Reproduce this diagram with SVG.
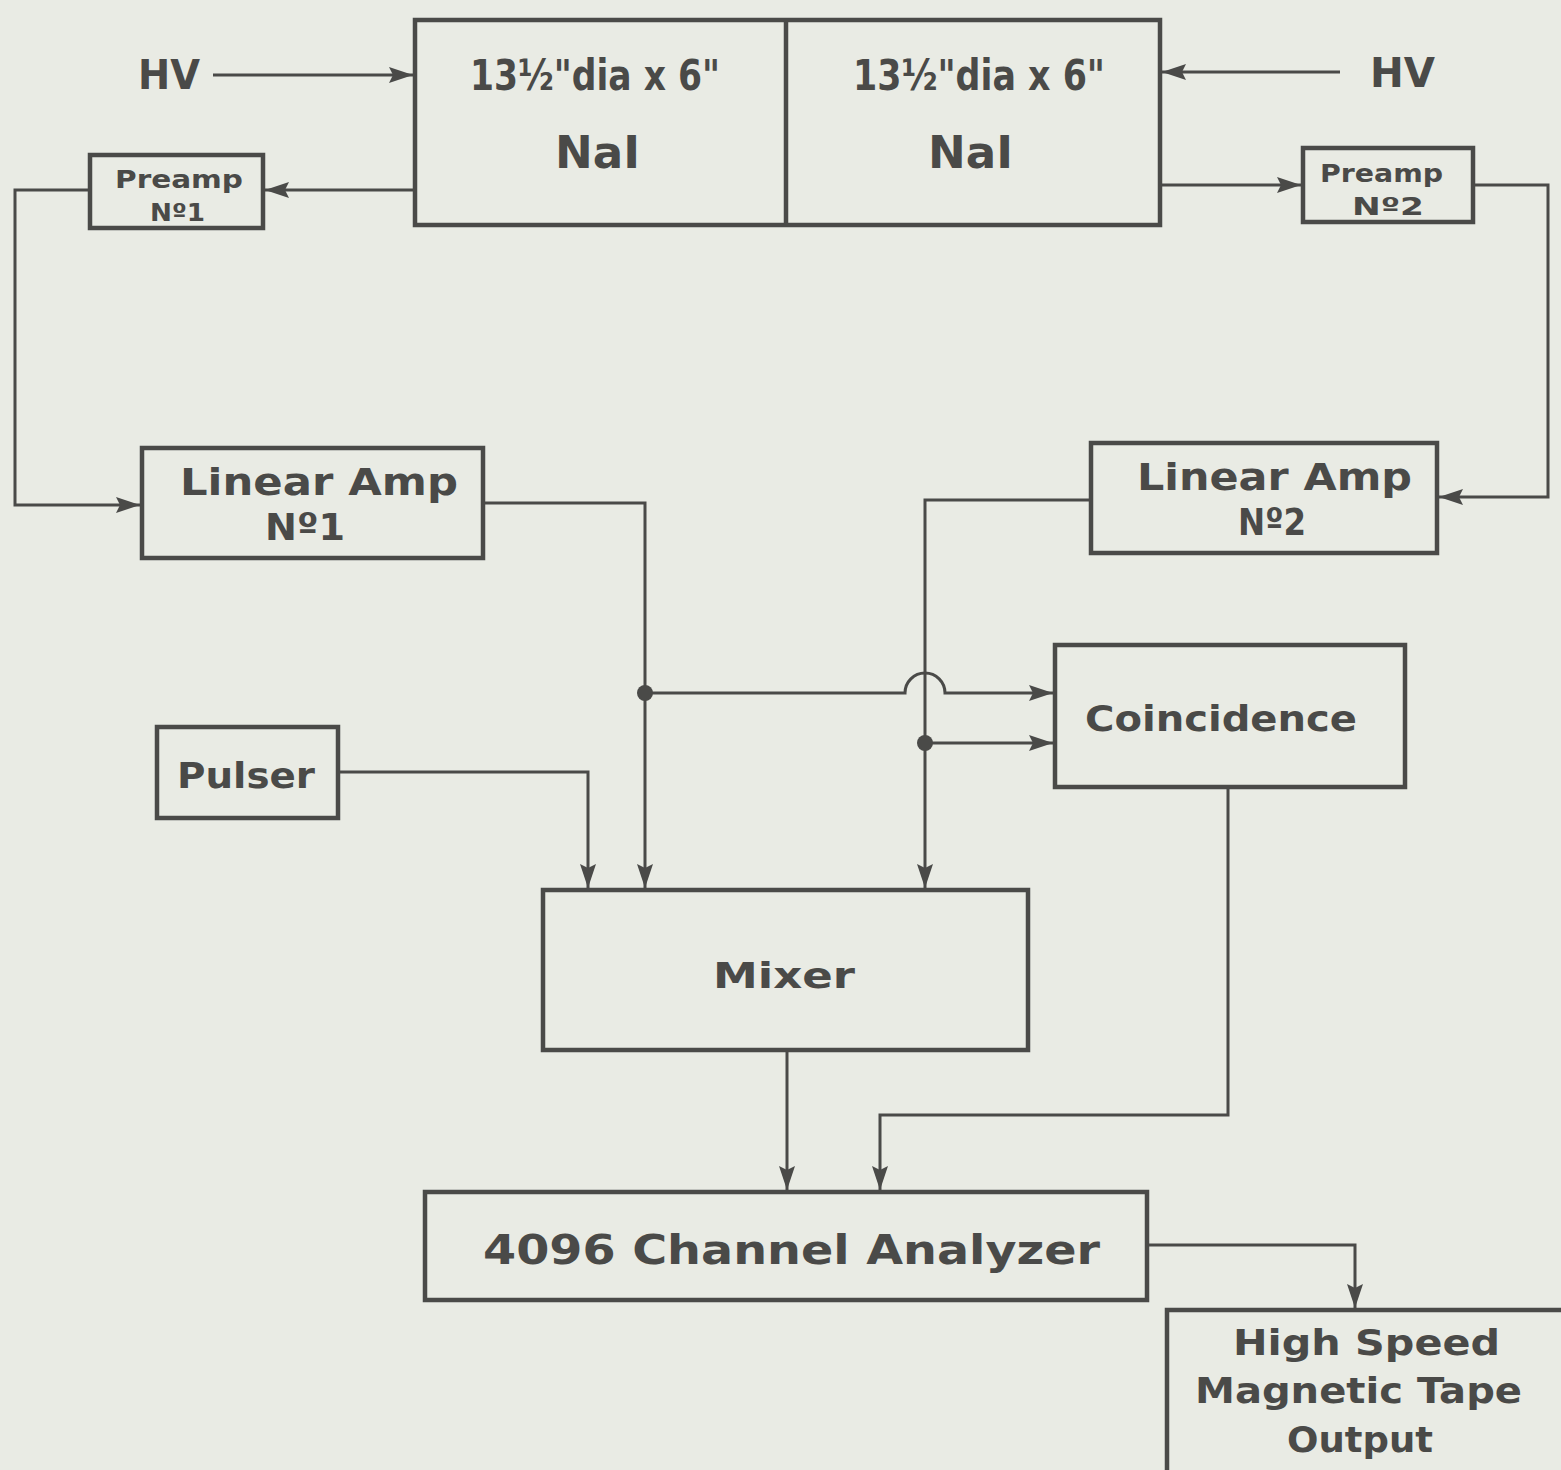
<svg xmlns="http://www.w3.org/2000/svg" width="1561" height="1470" viewBox="0 0 1561 1470">
<defs>
<marker id="ah" markerUnits="userSpaceOnUse" markerWidth="26" markerHeight="18" refX="24" refY="9" orient="auto">
<path d="M0,1 L24,9 L0,17 L4,9 Z" fill="#4a4a48"/>
</marker>
<style>
.box{fill:none;stroke:#4a4a48;stroke-width:4.5}
.ar{fill:none;stroke:#4a4a48;stroke-width:3;marker-end:url(#ah)}
.t{font-family:"DejaVu Sans","Liberation Sans",sans-serif;font-weight:bold;fill:#4a4a48;text-anchor:start}
.dot{fill:#4a4a48}
</style>
</defs>
<rect width="1561" height="1470" fill="#e9ebe4"/>

<g id="nai">
<rect class="box" x="415" y="20" width="745" height="205"/>
<line class="box" x1="786" y1="20" x2="786" y2="225"/>
<text class="t" x="470" y="90" font-size="42" textLength="250" lengthAdjust="spacingAndGlyphs">13½"dia x 6"</text>
<text class="t" x="555" y="168" font-size="44" textLength="85" lengthAdjust="spacingAndGlyphs">NaI</text>
<text class="t" x="853" y="90" font-size="42" textLength="252" lengthAdjust="spacingAndGlyphs">13½"dia x 6"</text>
<text class="t" x="928" y="168" font-size="44" textLength="85" lengthAdjust="spacingAndGlyphs">NaI</text>
</g>

<g id="hv-left">
<text class="t" x="138" y="89" font-size="40" textLength="62" lengthAdjust="spacingAndGlyphs">HV</text>
</g>
<g id="hv-right">
<text class="t" x="1370" y="87" font-size="40" textLength="65" lengthAdjust="spacingAndGlyphs">HV</text>
</g>

<g id="preamp1">
<rect class="box" x="90" y="155" width="173" height="73"/>
<text class="t" x="115" y="188" font-size="25" textLength="128" lengthAdjust="spacingAndGlyphs">Preamp</text>
<text class="t" x="150" y="221" font-size="25" textLength="55" lengthAdjust="spacingAndGlyphs">Nº1</text>
</g>

<g id="preamp2">
<rect class="box" x="1303" y="148" width="170" height="74"/>
<text class="t" x="1320" y="182" font-size="25" textLength="123" lengthAdjust="spacingAndGlyphs">Preamp</text>
<text class="t" x="1352" y="215" font-size="25" textLength="72" lengthAdjust="spacingAndGlyphs">Nº2</text>
</g>

<g id="linamp1">
<rect class="box" x="142" y="448" width="341" height="110"/>
<text class="t" x="180" y="495" font-size="38" textLength="278" lengthAdjust="spacingAndGlyphs">Linear Amp</text>
<text class="t" x="265" y="540" font-size="38" textLength="80" lengthAdjust="spacingAndGlyphs">Nº1</text>
</g>

<g id="linamp2">
<rect class="box" x="1091" y="443" width="346" height="110"/>
<text class="t" x="1137" y="490" font-size="38" textLength="275" lengthAdjust="spacingAndGlyphs">Linear Amp</text>
<text class="t" x="1238" y="535" font-size="38" textLength="68" lengthAdjust="spacingAndGlyphs">Nº2</text>
</g>

<g id="coincidence">
<rect class="box" x="1055" y="645" width="350" height="142"/>
<text class="t" x="1085" y="731" font-size="36" textLength="272" lengthAdjust="spacingAndGlyphs">Coincidence</text>
</g>

<g id="pulser">
<rect class="box" x="157" y="727" width="181" height="91"/>
<text class="t" x="177" y="788" font-size="36" textLength="138" lengthAdjust="spacingAndGlyphs">Pulser</text>
</g>

<g id="mixer">
<rect class="box" x="543" y="890" width="485" height="160"/>
<text class="t" x="713" y="988" font-size="36" textLength="142" lengthAdjust="spacingAndGlyphs">Mixer</text>
</g>

<g id="analyzer">
<rect class="box" x="425" y="1192" width="722" height="108"/>
<text class="t" x="483" y="1264" font-size="40" textLength="617" lengthAdjust="spacingAndGlyphs">4096 Channel Analyzer</text>
</g>

<g id="tape">
<rect class="box" x="1167" y="1310" width="420" height="200"/>
<text class="t" x="1233" y="1355" font-size="36" textLength="267" lengthAdjust="spacingAndGlyphs">High Speed</text>
<text class="t" x="1195" y="1403" font-size="36" textLength="327" lengthAdjust="spacingAndGlyphs">Magnetic Tape</text>
<text class="t" x="1287" y="1452" font-size="36" textLength="146" lengthAdjust="spacingAndGlyphs">Output</text>
</g>

<g id="connectors">
<path class="ar" d="M213,75 H413"/>
<path class="ar" d="M1340,72 H1162"/>
<path class="ar" d="M415,190 H265"/>
<path class="ar" d="M1160,185 H1301"/>
<path class="ar" d="M90,190 H15 V505 H140"/>
<path class="ar" d="M1473,185 H1548 V497 H1439"/>
<path class="ar" d="M483,503 H645 V888"/>
<path class="ar" d="M1091,500 H925 V888"/>
<path class="ar" d="M645,693 H905 A20,20 0 0 1 945,693 H1053"/>
<path class="ar" d="M925,743 H1053"/>
<path class="ar" d="M338,772 H588 V888"/>
<path class="ar" d="M787,1050 V1190"/>
<path class="ar" d="M1228,787 V1115 H880 V1190"/>
<path class="ar" d="M1147,1245 H1355 V1308"/>
<circle class="dot" cx="645" cy="693" r="8"/>
<circle class="dot" cx="925" cy="743" r="8"/>
</g>
</svg>
